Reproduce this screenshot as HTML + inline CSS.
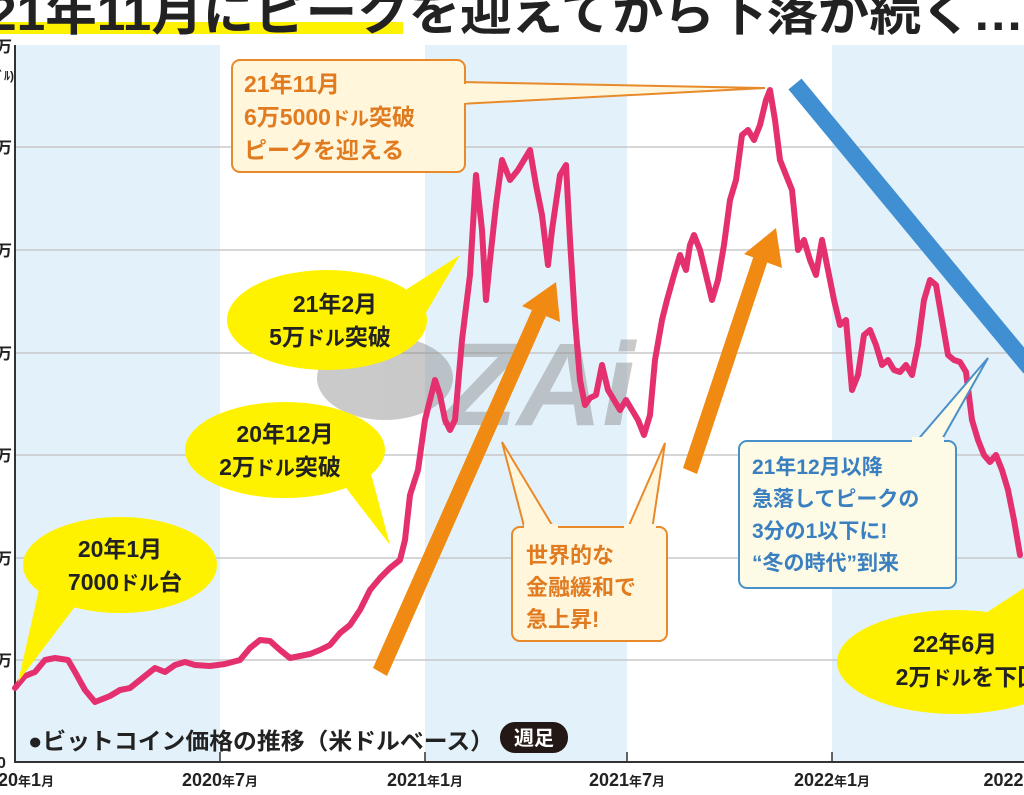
<!DOCTYPE html>
<html><head><meta charset="utf-8"><style>
body{margin:0;background:#fff}
svg{display:block}
text{font-family:"Liberation Sans","Noto Sans CJK JP",sans-serif;font-weight:bold}
</style></head><body>
<svg width="1024" height="795" viewBox="0 0 1024 795" xmlns="http://www.w3.org/2000/svg">
<rect width="1024" height="795" fill="#fff"/>
<rect x="15" y="45" width="205" height="717" fill="#e3f1fb"/>
<rect x="425" y="45" width="202" height="717" fill="#e3f1fb"/>
<rect x="832" y="45" width="192" height="717" fill="#e3f1fb"/>
<g stroke="#c8c8c8" stroke-width="1.5">
<line x1="15" y1="147" x2="1024" y2="147"/><line x1="15" y1="250" x2="1024" y2="250"/>
<line x1="15" y1="353" x2="1024" y2="353"/><line x1="15" y1="455" x2="1024" y2="455"/>
<line x1="15" y1="558" x2="1024" y2="558"/><line x1="15" y1="660" x2="1024" y2="660"/>
</g>
<line x1="15" y1="45" x2="15" y2="763" stroke="#333" stroke-width="2"/>
<line x1="15" y1="762" x2="1024" y2="762" stroke="#333" stroke-width="2"/>
<g stroke="#333" stroke-width="1.5"><line x1="220" y1="752" x2="220" y2="762"/><line x1="425" y1="752" x2="425" y2="762"/><line x1="627" y1="752" x2="627" y2="762"/><line x1="832" y1="752" x2="832" y2="762"/></g>
<g font-size="16" fill="#222" font-weight="normal">
<text x="-4" y="52">万</text><text x="-8" y="80" font-size="12">ﾄﾞﾙ)</text>
<text x="-4" y="153">万</text><text x="-4" y="256">万</text><text x="-4" y="359">万</text>
<text x="-4" y="461">万</text><text x="-4" y="564">万</text><text x="-4" y="666">万</text><text x="-3" y="768">0</text>
</g>
<g font-size="18" fill="#222" font-weight="normal" text-anchor="middle">
<text x="220" y="786">2020<tspan font-size="13">年</tspan>7<tspan font-size="13">月</tspan></text>
<text x="425" y="786">2021<tspan font-size="13">年</tspan>1<tspan font-size="13">月</tspan></text>
<text x="627" y="786">2021<tspan font-size="13">年</tspan>7<tspan font-size="13">月</tspan></text>
<text x="832" y="786">2022<tspan font-size="13">年</tspan>1<tspan font-size="13">月</tspan></text>
<text x="1010" y="786">2022<tspan font-size="13">年</tspan></text>
</g>
<text x="-2" y="786" font-size="18" fill="#222" font-weight="normal">20<tspan font-size="13">年</tspan>1<tspan font-size="13">月</tspan></text>
<g opacity="0.45">
<ellipse cx="385" cy="378" rx="68" ry="42" fill="#8a8a8a"/>
<text x="445" y="425" font-size="118" font-style="italic" fill="#8a8a8a" font-family="Liberation Sans">ZAi</text>
</g>
<g fill="#f08a12">
<polygon points="373,668 387,676 546,316 532,310"/>
<polygon points="522,306 556,282 560,322"/>
<polygon points="683,468 697,474 768,260 754,255"/>
<polygon points="744,254 776,228 782,268"/>
</g>
<line x1="795" y1="84" x2="1030" y2="368" stroke="#3f8fd2" stroke-width="17"/>
<polyline fill="none" stroke="#e4306e" stroke-width="6" stroke-linejoin="round" stroke-linecap="round" points="15,688 25,676 35,672 45,660 55,658 68,660 75,672 85,690 95,702 100,700 110,696 120,690 130,688 145,676 155,668 165,672 175,665 185,662 195,665 210,666 225,664 240,660 250,648 260,640 270,641 280,650 290,658 300,656 310,654 320,650 330,645 340,633 350,625 360,610 370,590 380,578 390,568 400,560 405,540 410,495 418,470 425,420 430,400 435,380 440,395 445,420 450,430 455,420 462,340 470,275 476,175 482,230 486,300 490,260 496,205 502,160 510,180 518,170 524,160 530,150 536,185 542,215 548,265 552,230 560,175 566,165 570,240 575,320 580,380 585,405 590,398 596,395 602,365 608,390 614,400 620,410 626,400 632,410 638,420 644,435 650,415 655,360 662,320 667,300 674,275 680,255 686,270 690,245 694,235 700,250 706,275 712,300 718,280 724,245 730,200 736,180 742,135 748,130 754,140 760,125 766,100 770,90 775,120 780,160 786,175 792,190 798,250 804,240 810,260 816,275 822,240 828,270 834,300 840,325 846,320 852,390 858,375 864,335 870,330 876,345 882,365 888,360 894,370 900,372 906,365 912,375 918,345 924,300 930,280 936,285 942,320 948,355 954,360 960,362 966,372 972,420 978,440 984,455 990,462 996,455 1002,470 1008,490 1014,520 1020,555"/>
<rect x="0" y="22" width="403" height="12" fill="#fff200"/>
<text x="-12" y="30" font-size="50" fill="#222" textLength="1036" lengthAdjust="spacingAndGlyphs">21年11月にピークを迎えてから下落が続く…</text>
<polygon points="460,82 765,88 460,104" fill="#fff6dc" stroke="#e88a2a" stroke-width="2"/>
<rect x="232" y="60" width="233" height="112" rx="8" fill="#fff6dc" stroke="#e88a2a" stroke-width="2"/>
<rect x="455" y="84" width="12" height="19" fill="#fff6dc"/>
<g font-size="23" fill="#e07b1f"><text x="244" y="92">21年11月</text><text x="244" y="125">6万5000<tspan font-size="19">ドル</tspan>突破</text><text x="244" y="158">ピークを迎える</text></g>
<g fill="#fff200">
<polygon points="390,300 460,255 410,340"/><ellipse cx="327" cy="320" rx="100" ry="50"/>
<polygon points="340,480 390,545 370,470"/><ellipse cx="285" cy="450" rx="100" ry="48"/>
<polygon points="40,585 18,682 80,600"/><ellipse cx="120" cy="565" rx="97" ry="48"/>
<polygon points="960,630 1024,588 1024,640"/><ellipse cx="955" cy="662" rx="118" ry="52"/>
</g>
<g font-size="23" fill="#222" text-anchor="middle">
<text x="335" y="312">21年2月</text><text x="330" y="345">5万<tspan font-size="20">ドル</tspan>突破</text>
<text x="285" y="442">20年12月</text><text x="280" y="475">2万<tspan font-size="20">ドル</tspan>突破</text>
<text x="120" y="557">20年1月</text><text x="125" y="590">7000<tspan font-size="20">ドル</tspan>台</text>
<text x="955" y="652">22年6月</text><text x="968" y="685">2万<tspan font-size="20">ドル</tspan>を下回</text>
</g>
<polygon points="502,442 555,530 525,530" fill="#fff6dc" stroke="#e88a2a" stroke-width="2"/>
<polygon points="665,443 627,530 652,530" fill="#fff6dc" stroke="#e88a2a" stroke-width="2"/>
<rect x="512" y="527" width="155" height="114" rx="8" fill="#fff6dc" stroke="#e88a2a" stroke-width="2"/>
<rect x="524" y="524" width="34" height="6" fill="#fff6dc"/><rect x="624" y="524" width="32" height="6" fill="#fff6dc"/>
<g font-size="22" fill="#e07b1f"><text x="526" y="563">世界的な</text><text x="526" y="595">金融緩和で</text><text x="526" y="627">急上昇!</text></g>
<polygon points="915,443 988,358 940,443" fill="#fdfbe6" stroke="#4a90c8" stroke-width="2"/>
<rect x="739" y="441" width="217" height="147" rx="8" fill="#fdfbe6" stroke="#4a90c8" stroke-width="2"/>
<rect x="912" y="437" width="32" height="7" fill="#fdfbe6"/>
<g font-size="21" fill="#3a7fc0"><text x="752" y="474">21年12月以降</text><text x="752" y="506">急落してピークの</text><text x="752" y="538">3分の1以下に!</text><text x="752" y="570">“冬の時代”到来</text></g>
<text x="28" y="749" font-size="23" fill="#222" font-weight="normal" textLength="466" lengthAdjust="spacingAndGlyphs">●ビットコイン価格の推移（米ドルベース）</text>
<rect x="500" y="722" width="68" height="31" rx="15" fill="#231815"/>
<text x="534" y="745" font-size="20" fill="#fff" text-anchor="middle" font-weight="normal">週足</text>
</svg>
</body></html>
